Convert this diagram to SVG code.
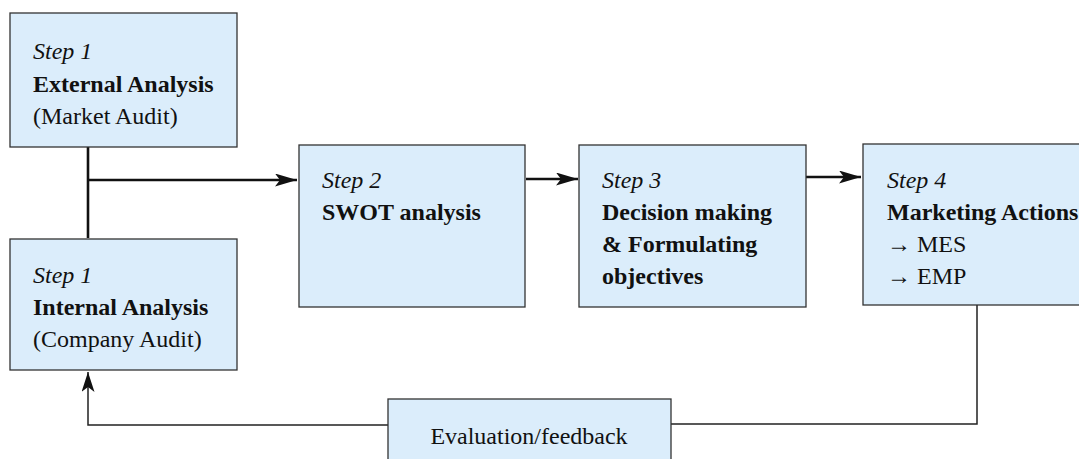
<svg xmlns="http://www.w3.org/2000/svg" width="1079" height="459" viewBox="0 0 1079 459">
  <style>
    .box { fill: #dbedfb; stroke: #333; stroke-width: 1.3; }
    .t { font-family: "Liberation Serif", "Times New Roman", serif; font-size: 24px; fill: #111; }
    .it { font-style: italic; }
    .b { font-weight: bold; }
    .thick { fill: none; stroke: #111; stroke-width: 2.6; }
    .thin { fill: none; stroke: #222; stroke-width: 1.5; }
  </style>
  <defs>
    <marker id="arrow" viewBox="0 0 22 13" refX="22" refY="6.5" markerWidth="22" markerHeight="13" markerUnits="userSpaceOnUse" orient="auto">
      <path d="M0,0 L22,6.5 L0,13 L5,6.5 Z" fill="#111"/>
    </marker>
    <marker id="arrowUp" viewBox="0 0 20 13" refX="20" refY="6.5" markerWidth="20" markerHeight="13" markerUnits="userSpaceOnUse" orient="auto">
      <path d="M0,0 L20,6.5 L0,13 L5,6.5 Z" fill="#111"/>
    </marker>
  </defs>

  <!-- connectors -->
  <g id="connectors">
    <line class="thick" x1="88" y1="147" x2="88" y2="238"/>
    <line class="thick" x1="88" y1="180" x2="297" y2="180" marker-end="url(#arrow)"/>
    <line class="thick" x1="526" y1="179" x2="578" y2="179" marker-end="url(#arrow)"/>
    <line class="thick" x1="806" y1="177" x2="861" y2="177" marker-end="url(#arrow)"/>
    <polyline class="thin" points="977,305 977,424 671,424"/>
    <polyline class="thin" points="388,425 88,425 88,372" marker-end="url(#arrowUp)"/>
  </g>

  <g id="external-analysis">
    <rect class="box" x="10" y="13" width="227" height="134"/>
    <text class="t it" x="33" y="59">Step 1</text>
    <text class="t b" x="33" y="92">External Analysis</text>
    <text class="t" x="33" y="124">(Market Audit)</text>
  </g>

  <g id="internal-analysis">
    <rect class="box" x="10" y="239" width="227" height="131"/>
    <text class="t it" x="33" y="283">Step 1</text>
    <text class="t b" x="33" y="315">Internal Analysis</text>
    <text class="t" x="33" y="347">(Company Audit)</text>
  </g>

  <g id="swot">
    <rect class="box" x="299" y="145" width="226" height="162"/>
    <text class="t it" x="322" y="188">Step 2</text>
    <text class="t b" x="322" y="220">SWOT analysis</text>
  </g>

  <g id="decision">
    <rect class="box" x="579" y="145" width="227" height="162"/>
    <text class="t it" x="602" y="188">Step 3</text>
    <text class="t b" x="602" y="220">Decision making</text>
    <text class="t b" x="602" y="252">&amp; Formulating</text>
    <text class="t b" x="602" y="284">objectives</text>
  </g>

  <g id="marketing-actions">
    <rect class="box" x="863" y="144" width="230" height="161"/>
    <text class="t it" x="887" y="188">Step 4</text>
    <text class="t b" x="887" y="220">Marketing Actions</text>
    <text class="t" x="887" y="252">→ MES</text>
    <text class="t" x="887" y="284">→ EMP</text>
  </g>

  <g id="evaluation">
    <rect class="box" x="388" y="399" width="283" height="70"/>
    <text class="t" x="529" y="444" text-anchor="middle">Evaluation/feedback</text>
  </g>
</svg>
